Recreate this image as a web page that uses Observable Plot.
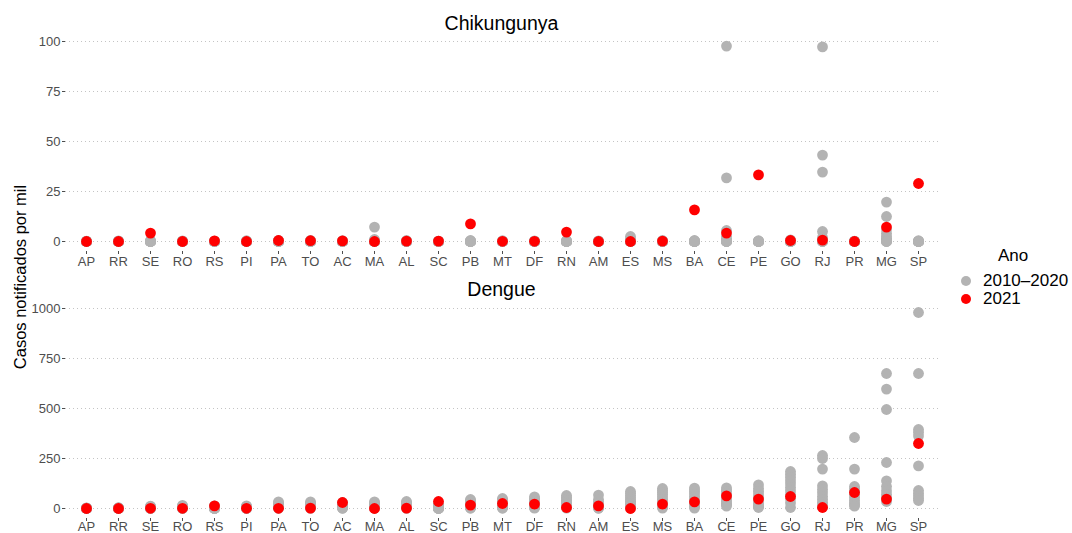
<!DOCTYPE html>
<html>
<head>
<meta charset="utf-8">
<script src="https://cdn.jsdelivr.net/npm/d3@7"></script>
<script src="https://cdn.jsdelivr.net/npm/@observablehq/plot@0.6"></script>
<style>
  body { margin: 0; background: #fff; font-family: "Liberation Sans", Arial, sans-serif; }
  #wrap { position: relative; width: 1072px; height: 533px; overflow: hidden; }
  #wrap svg { position: absolute; left: 0; top: 0; overflow: visible; }
  .lbl { position: absolute; white-space: nowrap; color: #000; }
</style>
</head>
<body>
<div id="wrap"></div>
<script>
const states = ["AP","RR","SE","RO","RS","PI","PA","TO","AC","MA","AL","SC","PB","MT","DF","RN","AM","ES","MS","BA","CE","PE","GO","RJ","PR","MG","SP"];
const periods = ["2010–2020", "2021"];
const periodColors = ["#b3b3b3", "#ff0000"];

// Chikungunya, 2010–2020 (one array of yearly values per state, in the order of `states`)
const chikPast = [
  [0.2,0.1,0,0,0,0,0,0,0,0,0],
  [0.3,0.1,0,0,0,0,0,0,0,0,0],
  [0.4,0.2,0.1,0,0,0,0,0,0,0,0],
  [0.3,0.1,0,0,0,0,0,0,0,0,0],
  [0.2,0.1,0,0,0,0,0,0,0,0,0],
  [0.4,0.2,0.1,0,0,0,0,0,0,0,0],
  [0.6,0.3,0.1,0,0,0,0,0,0,0,0],
  [0.6,0.3,0.1,0,0,0,0,0,0,0,0],
  [0.4,0.2,0,0,0,0,0,0,0,0,0],
  [7.2,1,0.5,0.2,0,0,0,0,0,0,0],
  [0.5,0.2,0.1,0,0,0,0,0,0,0,0],
  [0.2,0.1,0,0,0,0,0,0,0,0,0],
  [0.5,0.3,0.1,0,0,0,0,0,0,0,0],
  [0.4,0.2,0.1,0,0,0,0,0,0,0,0],
  [0.3,0.1,0,0,0,0,0,0,0,0,0],
  [0.5,0.2,0.1,0,0,0,0,0,0,0,0],
  [0.3,0.1,0,0,0,0,0,0,0,0,0],
  [2.5,1.2,0.5,0.2,0,0,0,0,0,0,0],
  [0.5,0.2,0.1,0,0,0,0,0,0,0,0],
  [0.5,0.3,0.1,0,0,0,0,0,0,0,0],
  [97.7,31.8,5.5,2.5,1,0.5,0.2,0,0,0,0],
  [0.4,0.2,0.1,0,0,0,0,0,0,0,0],
  [0.8,0.3,0.1,0,0,0,0,0,0,0,0],
  [97.3,43.2,34.7,5,2,1,0.5,0.2,0,0,0],
  [0.2,0.1,0,0,0,0,0,0,0,0,0],
  [19.7,12.5,6,4,2.5,1.5,0.8,0.3,0.1,0,0],
  [0.4,0.2,0.1,0,0,0,0,0,0,0,0]
];
const chik2021 = [0,0,4.2,0,0.3,0,0.5,0.4,0.3,0,0.2,0.2,8.8,0.1,0.1,4.7,0,0,0.2,15.8,4.2,33.3,0.5,0.7,0,7.2,29];

// Dengue, 2010–2020
const denguePast = [
  [3,2,2,1,1,1,0.5,0.5,0.3,0.2,0.1],
  [4,3,2,2,1,1,1,0.5,0.5,0.3,0.2],
  [12,9,7,5,4,3,2,1.5,1,0.5,0.3],
  [16,12,9,7,5,4,3,2,1.5,1,0.5],
  [13,10,7,5,3,2,1,0.5,0.3,0.2,0.1],
  [13,10,8,6,4,3,2,1.5,1,0.5,0.3],
  [33,28,22,18,14,10,8,5,3,2,1],
  [33,27,22,17,13,10,7,5,3,2,1],
  [30,26,22,18,14,10,7,5,3,2,1],
  [33,28,22,18,14,10,7,5,3,2,1],
  [35,30,25,20,16,12,9,6,4,2,1],
  [22,16,12,8,5,3,2,1,0.5,0.3,0.1],
  [45,40,33,27,22,17,12,8,5,3,1],
  [50,44,38,32,26,20,15,10,6,3,1],
  [58,50,43,36,29,22,16,11,7,4,2],
  [65,56,48,40,32,25,18,12,8,4,2],
  [67,45,32,24,18,13,9,6,4,2,1],
  [85,75,64,54,44,35,26,18,11,6,2],
  [100,90,80,70,58,46,35,25,15,8,2],
  [102,93,84,72,60,48,37,27,17,9,2],
  [103,94,85,74,63,52,42,33,25,18,12],
  [118,100,86,72,58,45,34,24,15,9,5],
  [185,170,155,138,122,105,88,70,50,28,5],
  [265,250,197,113,95,78,60,45,30,18,8],
  [355,197,110,98,85,70,55,40,28,18,12],
  [675,597,495,230,138,110,88,70,55,42,35],
  [980,675,395,380,362,213,90,75,62,50,40]
];
const dengue2021 = [0,0,1,1,13,1,1,2,30,0,2,35,17,25,22,5,13,0,22,33,63,47,60,5,80,47,325];

const chikTicks = [0, 25, 50, 75, 100];
const dengueTicks = [0, 250, 500, 750, 1000];

function rows(past, current) {
  const out = [];
  states.forEach((s, i) => past[i].forEach(v => out.push({state: s, value: v, period: periods[0]})));
  states.forEach((s, i) => out.push({state: s, value: current[i], period: periods[1]}));
  return out;
}

function panel(data, yDomain, ticks, mt, mb, xPad) {
  return Plot.plot({
    width: 1072, height: 533,
    marginLeft: 65, marginRight: 134, marginTop: mt, marginBottom: mb,
    style: {fontFamily: '"Liberation Sans", Arial, sans-serif', fontSize: "13px", color: "#4d4d4d", background: "transparent", overflow: "visible"},
    x: {type: "point", domain: states, padding: 0.6, label: null},
    y: {domain: yDomain, label: null},
    color: {domain: periods, range: periodColors},
    marks: [
      Plot.gridY(ticks, {stroke: "#c4c4c4", strokeOpacity: 1, strokeDasharray: "1,3"}),
      Plot.axisY(ticks, {tickSize: 3, tickPadding: 2, label: null, tickFormat: d => String(d)}),
      Plot.axisX({tickSize: 3, tickPadding: xPad, label: null}),
      Plot.dot(data, {x: "state", y: "value", fill: "period", r: 5.4})
    ]
  });
}

const wrap = document.getElementById("wrap");
wrap.appendChild(panel(rows(chikPast, chik2021), [-5, 102.5], chikTicks, 36, 282, 2));
wrap.appendChild(panel(rows(denguePast, dengue2021), [-50, 1030], dengueTicks, 302, 15, 0));

function label(text, css) {
  const d = document.createElement("div");
  d.className = "lbl";
  d.textContent = text;
  Object.assign(d.style, css);
  wrap.appendChild(d);
  return d;
}
label("Chikungunya", {left: "501.5px", top: "12px", fontSize: "19.5px", transform: "translateX(-50%)"});
label("Dengue", {left: "501.5px", top: "278px", fontSize: "19.5px", transform: "translateX(-50%)"});
label("Casos notificados por mil", {left: "20px", top: "277px", fontSize: "16.5px", transform: "translate(-50%,-50%) rotate(-90deg)"});

// legend
label("Ano", {left: "998px", top: "246px", fontSize: "17px"});
periods.forEach((p, i) => {
  const y = 281 + i * 18;
  const dot = document.createElement("div");
  Object.assign(dot.style, {position: "absolute", left: (966 - 5) + "px", top: (y - 5) + "px", width: "10px", height: "10px", borderRadius: "50%", background: periodColors[i]});
  wrap.appendChild(dot);
  label(p, {left: "983px", top: (y - 10) + "px", fontSize: "17px", lineHeight: "20px"});
});
</script>
</body>
</html>
